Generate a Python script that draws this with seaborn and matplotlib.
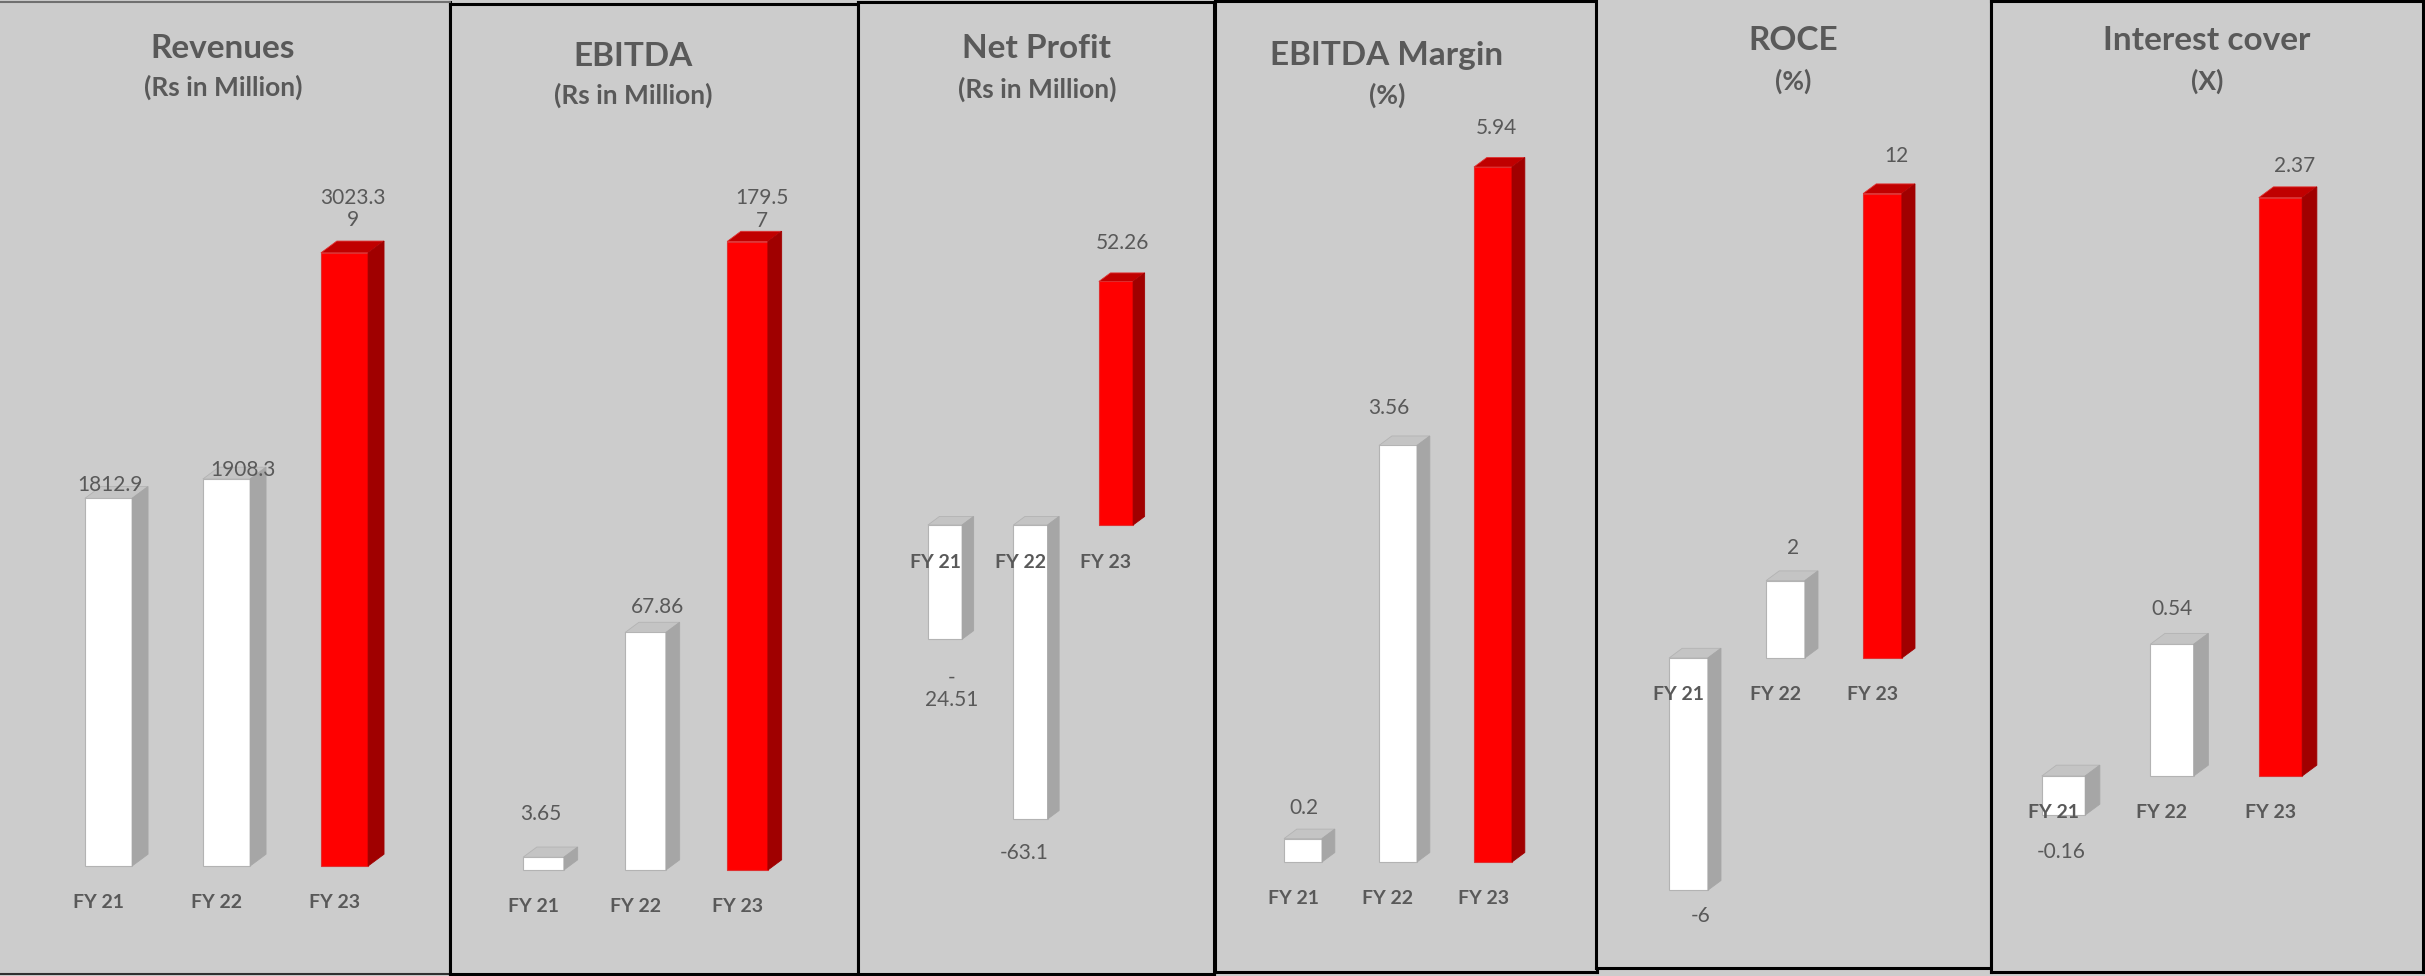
import matplotlib
matplotlib.use("Agg")
import matplotlib.pyplot as plt
from matplotlib.patches import Polygon
import seaborn as sns

# ---- data ----
years = ['FY 21', 'FY 22', 'FY 23']
titles = ['Revenues', 'EBITDA', 'Net Profit', 'EBITDA Margin', 'ROCE', 'Interest cover']
units = ['(Rs in Million)', '(Rs in Million)', '(Rs in Million)', '(%)', '(%)', '(X)']

revenues = [1812.9, 1908.3, 3023.39]
ebitda = [3.65, 67.86, 179.57]
net_profit = [-24.51, -63.1, 52.26]
ebitda_margin = [0.2, 3.56, 5.94]
roce = [-6, 2, 12]
interest_cover = [-0.16, 0.54, 2.37]

# value labels as printed (Excel wrapped the long ones)
revenue_labels = ['1812.9', '1908.3', '3023.3\n9']
ebitda_labels = ['3.65', '67.86', '179.5\n7']
net_profit_labels = ['-\n24.51', '-63.1', '52.26']
margin_labels = ['0.2', '3.56', '5.94']
roce_labels = ['-6', '2', '12']
cover_labels = ['-0.16', '0.54', '2.37']

series = [revenues, ebitda, net_profit, ebitda_margin, roce, interest_cover]
series_labels = [revenue_labels, ebitda_labels, net_profit_labels,
                 margin_labels, roce_labels, cover_labels]

# ---- layout (pixels on a 2425 x 976 canvas) ----
W, H = 2425, 976
boxes = [(0, 450, 2, 974), (450, 858, 4, 974), (858, 1214, 2, 974),
         (1215, 1597, 1, 972), (1596, 1991, 0, 968), (1991, 2423, 1, 972)]
first_bar = [108.5, 543.5, 945, 1303, 1688.5, 2063.5]
pitch = [118, 102, 85.5, 95, 97, 108.5]
zero_y = [866, 870, 525, 862, 658, 776]
px_per_unit = [0.2028, 3.50, 4.66, 117, 38.7, 244]
title_pos = [(223, 48, 87), (633, 56, 95), (1037, 49, 89),
             (1387, 55, 95), (1793, 40, 81), (2207, 40, 81)]
# label centre offsets from bar end (dx, dy) in pixels, dy downwards
label_offsets = [
    [(1.5, -13), (16.5, -9), (8.5, -44)],
    [(-2.5, -43), (11.5, -25), (14.5, -32)],
    [(7, 50), (-6.5, 34), (6, -38)],
    [(1, -31), (-9, -37), (3, -39)],
    [(12.5, 26), (7.5, -33), (13.5, -38)],
    [(-2.5, 37), (0.5, -35), (14.5, -32)],
]

BG = '#cccccc'
TXT = '#595959'
front = ['#ffffff', '#ffffff', '#ff0000']
side = ['#a6a6a6', '#a6a6a6', '#a00000']
top = ['#c4c4c4', '#c4c4c4', '#c00000']
edge = ['#b3b3b3', '#b3b3b3', '#e03030']
BAR_W = 0.4
DEPTH = 0.135

sns.set_theme(style='white')
plt.rcParams['font.family'] = ['Lato', 'DejaVu Sans']

fig = plt.figure(figsize=(W / 100, H / 100), dpi=100, facecolor=BG)

for n, (vals, labs) in enumerate(zip(series, series_labels)):
    L, R, T, B = boxes[n]
    ax = fig.add_axes([L / W, 1 - B / H, (R - L) / W, (B - T) / H])
    ax.set_facecolor(BG)

    sns.barplot(x=years, y=vals, hue=years, palette=front, width=BAR_W,
                saturation=1, legend=False, ax=ax, zorder=2)

    c0, sp, k, y0 = first_bar[n], pitch[n], px_per_unit[n], zero_y[n]
    ax.set_xlim((L - c0) / sp, (R - c0) / sp)
    ax.set_ylim((y0 - B) / k, (y0 - T) / k)
    ax.set_xticks([])
    ax.set_yticks([])
    ax.set_xlabel('')
    ax.set_ylabel('')

    # fake 3-D: top and side faces
    dy = 0.1 * sp / k
    bars = sorted(ax.patches, key=lambda p: p.get_x())
    for i, p in enumerate(bars):
        x0, w = p.get_x(), p.get_width()
        lo = min(p.get_y(), p.get_y() + p.get_height())
        hi = max(p.get_y(), p.get_y() + p.get_height())
        p.set_edgecolor(edge[i])
        p.set_linewidth(0.8)
        ax.add_patch(Polygon([(x0, hi), (x0 + w, hi), (x0 + w + DEPTH, hi + dy),
                              (x0 + DEPTH, hi + dy)], closed=True,
                             facecolor=top[i], edgecolor=edge[i], lw=0.6, zorder=2))
        ax.add_patch(Polygon([(x0 + w, lo), (x0 + w, hi), (x0 + w + DEPTH, hi + dy),
                              (x0 + w + DEPTH, lo + dy)], closed=True,
                             facecolor=side[i], edgecolor=side[i], lw=0.6, zorder=2))

        v = vals[i]
        ox, oy = label_offsets[n][i]
        ax.annotate(labs[i], xy=(i, v), xytext=(ox, -oy), textcoords='offset pixels',
                    ha='center', va='center', fontsize=15, color=TXT,
                    linespacing=1.15, zorder=3)
        ax.annotate(years[i], xy=(i, 0), xytext=(-10, -37), textcoords='offset pixels',
                    ha='center', va='center', fontsize=14, fontweight='bold',
                    color=TXT, zorder=3)

    for s in ax.spines.values():
        s.set_visible(True)
        s.set_color('black')
        s.set_linewidth(2.2)
        s.set_zorder(5)
    if n == 0:
        ax.spines['left'].set_visible(False)
        ax.spines['top'].set_color('#707070')
        ax.spines['top'].set_linewidth(1.5)
        ax.spines['bottom'].set_color('#303030')
        ax.spines['bottom'].set_linewidth(1.5)
    if n == 4:
        ax.spines['top'].set_visible(False)

    tx, ty1, ty2 = title_pos[n]
    fig.text(tx / W, 1 - ty1 / H, titles[n], ha='center', va='center',
             fontsize=24, fontweight='bold', color=TXT)
    fig.text(tx / W, 1 - ty2 / H, units[n], ha='center', va='center',
             fontsize=19, fontweight='bold', color=TXT)

fig.savefig('out.png', dpi=100, facecolor=BG)
